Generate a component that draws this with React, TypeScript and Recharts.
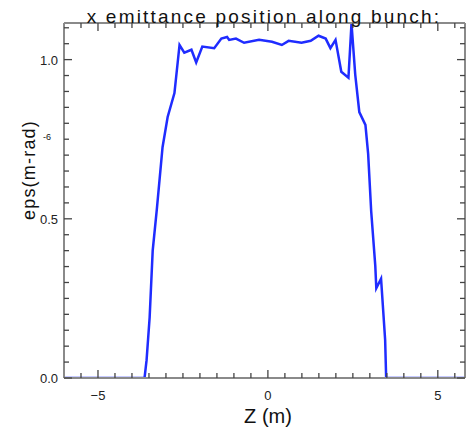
import React from "react";
import { LineChart, Line, XAxis, YAxis } from "recharts";

// z position along bunch (m)
const zValues = [
  -6.0, -3.63, -3.57, -3.48, -3.39, -3.27, -3.1, -2.95, -2.75, -2.6, -2.46, -2.25,
  -2.11, -1.93, -1.58, -1.37, -1.2, -1.14, -0.94, -0.7, -0.26, 0.12, 0.41, 0.61,
  0.99, 1.26, 1.49, 1.7, 1.84, 1.99, 2.16, 2.37, 2.46, 2.57, 2.69, 2.87, 2.95,
  3.04, 3.16, 3.19, 3.33, 3.45, 3.48, 5.8,
];
// x emittance, units of 1e-6 m-rad
const epsValues = [
  0.0, 0.0, 0.056, 0.19, 0.4, 0.528, 0.725, 0.82, 0.895, 1.046, 1.022, 1.031,
  0.991, 1.041, 1.036, 1.066, 1.071, 1.062, 1.066, 1.053, 1.062, 1.056, 1.046, 1.059,
  1.053, 1.059, 1.075, 1.066, 1.036, 1.062, 0.962, 0.943, 1.113, 0.953, 0.835, 0.795, 0.704,
  0.523, 0.352, 0.282, 0.312, 0.12, 0.0, 0.0,
];
const xTickValues = [-5, 0, 5];
const yTickValues = [0, 0.5, 1.0];

const data = zValues.map((z, i) => ({ z, eps: epsValues[i] }));

const W = 471;
const H = 431;
const LEFT = 64;
const RIGHT = 465;
const TOP = 23;
const BOTTOM = 378;
const X_DOMAIN: [number, number] = [-6, 5.8];
const Y_DOMAIN: [number, number] = [0, 1.115];

const xMinor: number[] = [];
for (let v = -5.5; v <= 5.5 + 1e-9; v += 0.5) xMinor.push(Math.round(v * 10) / 10);
const yMinor: number[] = [];
for (let v = 0; v <= 1.1 + 1e-9; v += 0.05) yMinor.push(Math.round(v * 100) / 100);

const FONT = "'Liberation Sans', Arial, sans-serif";
const TICK_COLOR = "#444";
const AXIS_COLOR = "#8a8a8a";

const isMajorX = (v: number) => xTickValues.some((t) => Math.abs(t - v) < 1e-6);
const isMajorY = (v: number) => yTickValues.some((t) => Math.abs(t - v) < 1e-6);
const fmtX = (v: number) => (v < 0 ? "\u2212" + Math.abs(v) : String(v));

const BottomTick = (props: any) => {
  const { x, payload } = props;
  const major = isMajorX(payload.value);
  return (
    <g>
      <line x1={x} x2={x} y1={BOTTOM} y2={BOTTOM - (major ? 8 : 5)} stroke={TICK_COLOR} strokeWidth={1.3} />
      {major && (
        <text x={x} y={BOTTOM + 22} textAnchor="middle" fontSize={13} fontFamily={FONT} fill="#222">
          {fmtX(payload.value)}
        </text>
      )}
    </g>
  );
};

const TopTick = (props: any) => {
  const { x, payload } = props;
  const major = isMajorX(payload.value);
  return <line x1={x} x2={x} y1={TOP} y2={TOP + (major ? 8 : 5)} stroke={TICK_COLOR} strokeWidth={1.3} />;
};

const LeftTick = (props: any) => {
  const { y, payload } = props;
  const major = isMajorY(payload.value);
  return (
    <g>
      <line x1={LEFT} x2={LEFT + (major ? 8 : 5)} y1={y} y2={y} stroke={TICK_COLOR} strokeWidth={1.3} />
      {major && (
        <text x={LEFT - 6} y={y + 5} textAnchor="end" fontSize={13} fontFamily={FONT} fill="#222">
          {payload.value.toFixed(1)}
        </text>
      )}
    </g>
  );
};

const RightTick = (props: any) => {
  const { y, payload } = props;
  const major = isMajorY(payload.value);
  return <line x1={RIGHT} x2={RIGHT - (major ? 8 : 5)} y1={y} y2={y} stroke={TICK_COLOR} strokeWidth={1.3} />;
};

export default function App() {
  return (
    <div style={{ position: "absolute", left: 0, top: 0, width: W, height: H, background: "#fff" }}>
      <LineChart
        width={W}
        height={H}
        data={data}
        margin={{ top: TOP - 1, right: W - RIGHT - 1, bottom: 0, left: 0 }}
      >
        <XAxis
          dataKey="z"
          type="number"
          domain={X_DOMAIN}
          allowDataOverflow
          ticks={xMinor}
          interval={0}
          tick={<BottomTick />}
          tickLine={false}
          axisLine={{ stroke: AXIS_COLOR, strokeWidth: 2 }}
          height={H - BOTTOM}
        />
        <XAxis
          xAxisId="top"
          orientation="top"
          dataKey="z"
          type="number"
          domain={X_DOMAIN}
          allowDataOverflow
          ticks={xMinor}
          interval={0}
          tick={<TopTick />}
          tickLine={false}
          axisLine={{ stroke: AXIS_COLOR, strokeWidth: 2 }}
          height={1}
        />
        <YAxis
          type="number"
          domain={Y_DOMAIN}
          allowDataOverflow
          ticks={yMinor}
          interval={0}
          tick={<LeftTick />}
          tickLine={false}
          axisLine={{ stroke: AXIS_COLOR, strokeWidth: 2 }}
          width={LEFT}
        />
        <YAxis
          yAxisId="right"
          orientation="right"
          type="number"
          domain={Y_DOMAIN}
          allowDataOverflow
          ticks={yMinor}
          interval={0}
          tick={<RightTick />}
          tickLine={false}
          axisLine={{ stroke: AXIS_COLOR, strokeWidth: 2 }}
          width={1}
        />
        {/* invisible series so the mirrored frame axes get drawn */}
        <Line
          xAxisId="top"
          yAxisId="right"
          type="linear"
          dataKey="eps"
          stroke="none"
          dot={false}
          legendType="none"
          isAnimationActive={false}
        />
        <Line
          type="linear"
          dataKey="eps"
          stroke="#1f2cff"
          strokeWidth={2.5}
          dot={false}
          isAnimationActive={false}
        />
      </LineChart>
      <svg
        width={W}
        height={H}
        style={{ position: "absolute", left: 0, top: 0, pointerEvents: "none" }}
      >
        <text
          x={264}
          y={23}
          textAnchor="middle"
          fontSize={19}
          letterSpacing={2.2}
          fontFamily={FONT}
          fill="#111"
        >
          x emittance position along bunch:
        </text>
        <text
          x={35}
          y={170}
          textAnchor="middle"
          fontSize={18}
          letterSpacing={1.2}
          fontFamily={FONT}
          fill="#111"
          transform="rotate(-90 35 170)"
        >
          eps(m-rad)
        </text>
        <text x={43} y={140} fontSize={9} fontFamily={FONT} fill="#111">
          -6
        </text>
        <text x={268} y={423} textAnchor="middle" fontSize={20} fontFamily={FONT} fill="#111">
          Z (m)
        </text>
      </svg>
    </div>
  );
}
